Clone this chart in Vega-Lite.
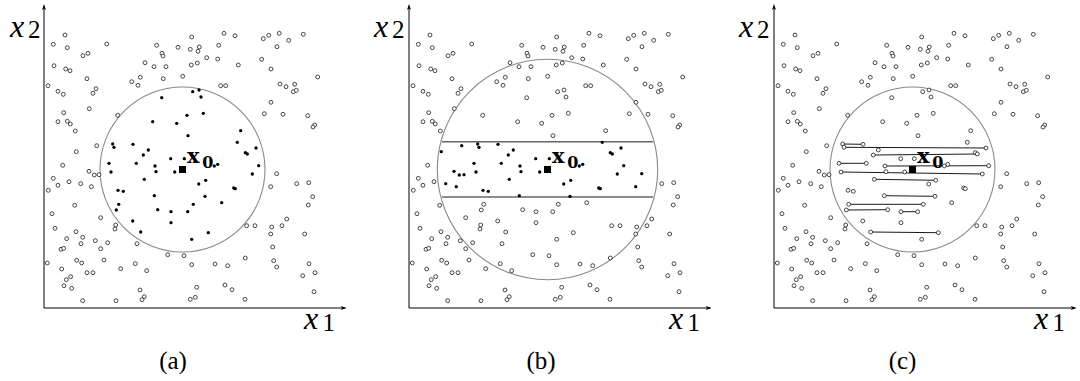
{
"$schema":"https://vega.github.io/schema/vega-lite/v6.json",
"padding":{"left":10,"top":4,"right":0,"bottom":0},
"spacing":61,
"bounds":"flush",
"config":{"view":{"stroke":null}},
"datasets":{
"one":[{}],
"pts":[{"x1":21,"x2":273},{"x1":147.7,"x2":271},{"x1":180,"x2":274.7},{"x1":191,"x2":272.3},{"x1":219.3,"x2":269.3},{"x1":224.7,"x2":272.7},{"x1":235.3,"x2":274.7},{"x1":244.7,"x2":267.7},{"x1":259.3,"x2":273.7},{"x1":9.3,"x2":263.7},{"x1":23.3,"x2":260.3},{"x1":62.7,"x2":264},{"x1":112.7,"x2":262.7},{"x1":134,"x2":260.7},{"x1":146.3,"x2":258.7},{"x1":155.3,"x2":261},{"x1":154,"x2":256.7},{"x1":174.7,"x2":262.7},{"x1":233,"x2":261.3},{"x1":118,"x2":254.7},{"x1":44,"x2":254.7},{"x1":39,"x2":252.3},{"x1":119,"x2":252},{"x1":162.7,"x2":250.3},{"x1":173.7,"x2":249},{"x1":217.7,"x2":248.7},{"x1":101,"x2":245.3},{"x1":153.3,"x2":245},{"x1":147.3,"x2":243},{"x1":110,"x2":241.3},{"x1":122,"x2":241.3},{"x1":194.3,"x2":243},{"x1":10,"x2":242.3},{"x1":21.7,"x2":239},{"x1":26,"x2":237.3},{"x1":227,"x2":239},{"x1":43,"x2":229.3},{"x1":87.7,"x2":226.3},{"x1":96.3,"x2":230.7},{"x1":119.3,"x2":229.3},{"x1":138.7,"x2":231.7},{"x1":94,"x2":222.7},{"x1":176.7,"x2":222.3},{"x1":181.7,"x2":222.3},{"x1":4,"x2":222.3},{"x1":14,"x2":216.7},{"x1":19.3,"x2":213.7},{"x1":52,"x2":219.3},{"x1":49,"x2":214.7},{"x1":236,"x2":224},{"x1":242,"x2":221.3},{"x1":250.7,"x2":223.7},{"x1":249.3,"x2":216.3},{"x1":252.3,"x2":217.7},{"x1":273.7,"x2":231},{"x1":45.3,"x2":199.3},{"x1":227,"x2":205.7},{"x1":19.7,"x2":195.3},{"x1":73.7,"x2":192.7},{"x1":220.3,"x2":194.3},{"x1":239,"x2":193.7},{"x1":263.7,"x2":192.3},{"x1":14,"x2":186.3},{"x1":23.3,"x2":186.7},{"x1":26.3,"x2":184},{"x1":31.3,"x2":177},{"x1":270.7,"x2":183},{"x1":269,"x2":181},{"x1":32.3,"x2":156.3},{"x1":52.7,"x2":162.3},{"x1":18.7,"x2":142.7},{"x1":45,"x2":136.7},{"x1":50.3,"x2":133},{"x1":55,"x2":133.3},{"x1":232.7,"x2":134.3},{"x1":9.3,"x2":129.7},{"x1":14,"x2":122.7},{"x1":4.3,"x2":117.7},{"x1":25,"x2":126.3},{"x1":36.7,"x2":124.3},{"x1":47.3,"x2":121.3},{"x1":226.7,"x2":121.3},{"x1":252.7,"x2":124.3},{"x1":264.7,"x2":125.3},{"x1":268.7,"x2":111.3},{"x1":30.7,"x2":102.7},{"x1":8,"x2":94.3},{"x1":264.3,"x2":103},{"x1":56.7,"x2":90.3},{"x1":11,"x2":79.7},{"x1":71.7,"x2":83},{"x1":71,"x2":79},{"x1":22.7,"x2":69.3},{"x1":32,"x2":76.3},{"x1":38.7,"x2":70.7},{"x1":37,"x2":64.3},{"x1":51.3,"x2":67.3},{"x1":63.7,"x2":65.3},{"x1":56.7,"x2":59.3},{"x1":93,"x2":64.3},{"x1":202.7,"x2":82.3},{"x1":211,"x2":82.3},{"x1":227.7,"x2":81},{"x1":226.7,"x2":74},{"x1":238,"x2":82.3},{"x1":242.7,"x2":89},{"x1":260.7,"x2":74},{"x1":228.7,"x2":61},{"x1":17,"x2":58.7},{"x1":19.7,"x2":59.7},{"x1":123.7,"x2":53.3},{"x1":140,"x2":52.3},{"x1":3.3,"x2":45},{"x1":32.7,"x2":47.7},{"x1":37.7,"x2":45},{"x1":60,"x2":48},{"x1":76.7,"x2":39.3},{"x1":91.3,"x2":44.3},{"x1":102.7,"x2":37.3},{"x1":147.7,"x2":43.3},{"x1":171,"x2":44},{"x1":183.7,"x2":42.3},{"x1":201.3,"x2":50},{"x1":229.7,"x2":47.3},{"x1":232.7,"x2":41},{"x1":265,"x2":44.3},{"x1":271,"x2":35.3},{"x1":258.7,"x2":32.3},{"x1":17.7,"x2":39},{"x1":43,"x2":35.3},{"x1":49,"x2":35.3},{"x1":26.7,"x2":31.3},{"x1":22.3,"x2":28.3},{"x1":20,"x2":22.3},{"x1":27.7,"x2":19.7},{"x1":96,"x2":18},{"x1":100.3,"x2":11.3},{"x1":98,"x2":8.3},{"x1":38.7,"x2":7.3},{"x1":72,"x2":7.3},{"x1":152.7,"x2":20.7},{"x1":181,"x2":23},{"x1":188,"x2":18.3},{"x1":146.3,"x2":8.7},{"x1":151.3,"x2":10.7},{"x1":201,"x2":8.7},{"x1":270,"x2":16.3},
{"x1":117.7,"x2":210.3},{"x1":148.7,"x2":216.3},{"x1":155,"x2":218},{"x1":157,"x2":211},{"x1":159.3,"x2":194.7},{"x1":143,"x2":192.7},{"x1":108.7,"x2":186.3},{"x1":132.7,"x2":184.7},{"x1":144,"x2":172.3},{"x1":196.7,"x2":177.3},{"x1":193.3,"x2":165.7},{"x1":212,"x2":160},{"x1":201.3,"x2":155.3},{"x1":203.3,"x2":154},{"x1":214.7,"x2":142.3},{"x1":208.3,"x2":134},{"x1":173.7,"x2":143.7},{"x1":170.3,"x2":142},{"x1":161.7,"x2":127.7},{"x1":154.7,"x2":124},{"x1":68.7,"x2":164},{"x1":70,"x2":160.7},{"x1":89,"x2":163.7},{"x1":104.3,"x2":158},{"x1":99.3,"x2":153},{"x1":92.3,"x2":144.7},{"x1":111,"x2":142},{"x1":112,"x2":136.3},{"x1":126.7,"x2":149.3},{"x1":140.3,"x2":149.3},{"x1":130.7,"x2":136},{"x1":65,"x2":144.7},{"x1":67,"x2":136},{"x1":100.3,"x2":128.7},{"x1":74,"x2":117.7},{"x1":79.3,"x2":116.7},{"x1":110.3,"x2":112.3},{"x1":189.7,"x2":120},{"x1":191.3,"x2":119.3},{"x1":161,"x2":111.7},{"x1":149.3,"x2":103.7},{"x1":177.7,"x2":105.3},{"x1":74.7,"x2":103.7},{"x1":72.3,"x2":98},{"x1":113.7,"x2":98.3},{"x1":127,"x2":96.3},{"x1":143.7,"x2":96.3},{"x1":127,"x2":85.3},{"x1":88.7,"x2":87},{"x1":96.7,"x2":76},{"x1":164.3,"x2":75.3},{"x1":147.7,"x2":68.7}],
"segs":[{"x1":68.7,"x2":164,"x1e":89,"x2e":163.7},{"x1":70,"x2":160.7,"x1e":212,"x2e":160},{"x1":99.3,"x2":153,"x1e":203.3,"x2e":154},{"x1":65,"x2":144.7,"x1e":92.3,"x2e":144.7},{"x1":111,"x2":142,"x1e":214.7,"x2e":142.3},{"x1":67,"x2":136,"x1e":208.3,"x2e":134},{"x1":100.3,"x2":128.7,"x1e":161.7,"x2e":127.7},{"x1":110.3,"x2":112.3,"x1e":161,"x2e":111.7},{"x1":74.7,"x2":103.7,"x1e":149.3,"x2e":103.7},{"x1":72.3,"x2":98,"x1e":113.7,"x2e":98.3},{"x1":127,"x2":96.3,"x1e":143.7,"x2e":96.3},{"x1":96.7,"x2":76,"x1e":164.3,"x2e":75.3}]
},
"hconcat":[
{"width":304,"height":304,"data":{"name":"one"},"layer":[
{"mark":{"type":"rule","color":"black","strokeWidth":1},"encoding":{"x":{"datum":0,"type":"quantitative","scale":{"domain":[0,304]},"axis":null},"x2":{"datum":301},"y":{"datum":0,"type":"quantitative","scale":{"domain":[0,304]},"axis":null}}},
{"mark":{"type":"rule","color":"black","strokeWidth":1},"encoding":{"x":{"datum":0,"type":"quantitative","scale":{"domain":[0,304]},"axis":null},"y":{"datum":0,"type":"quantitative","scale":{"domain":[0,304]},"axis":null},"y2":{"datum":302}}},
{"mark":{"type":"point","shape":"M0,-1L0.5,0.5L0,0.1L-0.5,0.5Z","size":64,"filled":true,"color":"black","opacity":1},"encoding":{"x":{"datum":0,"type":"quantitative","scale":{"domain":[0,304]},"axis":null},"y":{"datum":300,"type":"quantitative","scale":{"domain":[0,304]},"axis":null}}},
{"mark":{"type":"point","shape":"M1,0L-0.5,0.5L-0.1,0L-0.5,-0.5Z","size":64,"filled":true,"color":"black","opacity":1},"encoding":{"x":{"datum":298.7,"type":"quantitative","scale":{"domain":[0,304]},"axis":null},"y":{"datum":0,"type":"quantitative","scale":{"domain":[0,304]},"axis":null}}},
{"mark":{"type":"point","shape":"circle","size":27225,"filled":false,"color":"#8a8a8a","strokeWidth":1.1,"opacity":1},"encoding":{"x":{"datum":138.5,"type":"quantitative","scale":{"domain":[0,304]},"axis":null},"y":{"datum":138.5,"type":"quantitative","scale":{"domain":[0,304]},"axis":null}}},
{"data":{"name":"pts"},"transform":[{"filter":"pow(datum.x1-138.5,2)+pow(datum.x2-138.5,2)>=6806"}],"mark":{"type":"point","shape":"circle","size":15,"fill":"white","stroke":"#1a1a1a","strokeWidth":0.8,"opacity":1},"encoding":{"x":{"field":"x1","type":"quantitative","scale":{"domain":[0,304]},"axis":null},"y":{"field":"x2","type":"quantitative","scale":{"domain":[0,304]},"axis":null}}},
{"data":{"name":"pts"},"transform":[{"filter":"pow(datum.x1-138.5,2)+pow(datum.x2-138.5,2)<6806"}],"mark":{"type":"point","shape":"circle","size":11,"filled":true,"color":"black","opacity":1},"encoding":{"x":{"field":"x1","type":"quantitative","scale":{"domain":[0,304]},"axis":null},"y":{"field":"x2","type":"quantitative","scale":{"domain":[0,304]},"axis":null}}},
{"mark":{"type":"point","shape":"square","size":49,"filled":true,"color":"black","opacity":1},"encoding":{"x":{"datum":138.5,"type":"quantitative","scale":{"domain":[0,304]},"axis":null},"y":{"datum":138.5,"type":"quantitative","scale":{"domain":[0,304]},"axis":null}}},
{"mark":{"type":"text","text":"x","font":"Liberation Serif","fontStyle":"italic","fontSize":32,"align":"left","baseline":"alphabetic","color":"black"},"encoding":{"x":{"datum":-34,"type":"quantitative","scale":{"domain":[0,304]},"axis":null},"y":{"datum":271,"type":"quantitative","scale":{"domain":[0,304]},"axis":null}}},
{"mark":{"type":"text","text":"2","font":"Liberation Serif","fontSize":25,"align":"left","baseline":"alphabetic","color":"black"},"encoding":{"x":{"datum":-16,"type":"quantitative","scale":{"domain":[0,304]},"axis":null},"y":{"datum":270,"type":"quantitative","scale":{"domain":[0,304]},"axis":null}}},
{"mark":{"type":"text","text":"x","font":"Liberation Serif","fontStyle":"italic","fontSize":32,"align":"left","baseline":"alphabetic","color":"black"},"encoding":{"x":{"datum":260,"type":"quantitative","scale":{"domain":[0,304]},"axis":null},"y":{"datum":-21,"type":"quantitative","scale":{"domain":[0,304]},"axis":null}}},
{"mark":{"type":"text","text":"1","font":"Liberation Serif","fontSize":25,"align":"left","baseline":"alphabetic","color":"black"},"encoding":{"x":{"datum":278.5,"type":"quantitative","scale":{"domain":[0,304]},"axis":null},"y":{"datum":-23,"type":"quantitative","scale":{"domain":[0,304]},"axis":null}}},
{"mark":{"type":"text","text":"x","font":"DejaVu Serif","fontWeight":"bold","fontSize":21,"align":"left","baseline":"alphabetic","color":"black"},"encoding":{"x":{"datum":143,"type":"quantitative","scale":{"domain":[0,304]},"axis":null},"y":{"datum":144.7,"type":"quantitative","scale":{"domain":[0,304]},"axis":null}}},
{"mark":{"type":"text","text":"0","font":"DejaVu Serif","fontWeight":"bold","fontSize":16,"align":"left","baseline":"alphabetic","color":"black"},"encoding":{"x":{"datum":158.3,"type":"quantitative","scale":{"domain":[0,304]},"axis":null},"y":{"datum":140,"type":"quantitative","scale":{"domain":[0,304]},"axis":null}}},
{"mark":{"type":"text","text":"(a)","font":"Liberation Serif","fontSize":25,"align":"center","baseline":"alphabetic","color":"black"},"encoding":{"x":{"datum":129,"type":"quantitative","scale":{"domain":[0,304]},"axis":null},"y":{"datum":-61,"type":"quantitative","scale":{"domain":[0,304]},"axis":null}}}
]},
{"width":304,"height":304,"data":{"name":"one"},"layer":[
{"mark":{"type":"rule","color":"black","strokeWidth":1},"encoding":{"x":{"datum":0,"type":"quantitative","scale":{"domain":[0,304]},"axis":null},"x2":{"datum":301},"y":{"datum":0,"type":"quantitative","scale":{"domain":[0,304]},"axis":null}}},
{"mark":{"type":"rule","color":"black","strokeWidth":1},"encoding":{"x":{"datum":0,"type":"quantitative","scale":{"domain":[0,304]},"axis":null},"y":{"datum":0,"type":"quantitative","scale":{"domain":[0,304]},"axis":null},"y2":{"datum":302}}},
{"mark":{"type":"point","shape":"M0,-1L0.5,0.5L0,0.1L-0.5,0.5Z","size":64,"filled":true,"color":"black","opacity":1},"encoding":{"x":{"datum":0,"type":"quantitative","scale":{"domain":[0,304]},"axis":null},"y":{"datum":300,"type":"quantitative","scale":{"domain":[0,304]},"axis":null}}},
{"mark":{"type":"point","shape":"M1,0L-0.5,0.5L-0.1,0L-0.5,-0.5Z","size":64,"filled":true,"color":"black","opacity":1},"encoding":{"x":{"datum":298.7,"type":"quantitative","scale":{"domain":[0,304]},"axis":null},"y":{"datum":0,"type":"quantitative","scale":{"domain":[0,304]},"axis":null}}},
{"mark":{"type":"point","shape":"circle","size":48576,"filled":false,"color":"#8a8a8a","strokeWidth":1.1,"opacity":1},"encoding":{"x":{"datum":138.5,"type":"quantitative","scale":{"domain":[0,304]},"axis":null},"y":{"datum":138.5,"type":"quantitative","scale":{"domain":[0,304]},"axis":null}}},
{"mark":{"type":"rule","color":"#666666","strokeWidth":1.4},"encoding":{"x":{"datum":33,"type":"quantitative","scale":{"domain":[0,304]},"axis":null},"x2":{"datum":244},"y":{"datum":166.3,"type":"quantitative","scale":{"domain":[0,304]},"axis":null}}},
{"mark":{"type":"rule","color":"#666666","strokeWidth":1.4},"encoding":{"x":{"datum":33,"type":"quantitative","scale":{"domain":[0,304]},"axis":null},"x2":{"datum":244},"y":{"datum":111,"type":"quantitative","scale":{"domain":[0,304]},"axis":null}}},
{"data":{"name":"pts"},"transform":[{"filter":"!(datum.x2>=110.5 && datum.x2<=167 && pow(datum.x1-138.5,2)+pow(datum.x2-138.5,2)<12144)"}],"mark":{"type":"point","shape":"circle","size":15,"fill":"white","stroke":"#1a1a1a","strokeWidth":0.8,"opacity":1},"encoding":{"x":{"field":"x1","type":"quantitative","scale":{"domain":[0,304]},"axis":null},"y":{"field":"x2","type":"quantitative","scale":{"domain":[0,304]},"axis":null}}},
{"data":{"name":"pts"},"transform":[{"filter":"datum.x2>=110.5 && datum.x2<=167 && pow(datum.x1-138.5,2)+pow(datum.x2-138.5,2)<12144"}],"mark":{"type":"point","shape":"circle","size":11,"filled":true,"color":"black","opacity":1},"encoding":{"x":{"field":"x1","type":"quantitative","scale":{"domain":[0,304]},"axis":null},"y":{"field":"x2","type":"quantitative","scale":{"domain":[0,304]},"axis":null}}},
{"mark":{"type":"point","shape":"square","size":49,"filled":true,"color":"black","opacity":1},"encoding":{"x":{"datum":138.5,"type":"quantitative","scale":{"domain":[0,304]},"axis":null},"y":{"datum":138.5,"type":"quantitative","scale":{"domain":[0,304]},"axis":null}}},
{"mark":{"type":"text","text":"x","font":"Liberation Serif","fontStyle":"italic","fontSize":32,"align":"left","baseline":"alphabetic","color":"black"},"encoding":{"x":{"datum":-35,"type":"quantitative","scale":{"domain":[0,304]},"axis":null},"y":{"datum":271,"type":"quantitative","scale":{"domain":[0,304]},"axis":null}}},
{"mark":{"type":"text","text":"2","font":"Liberation Serif","fontSize":25,"align":"left","baseline":"alphabetic","color":"black"},"encoding":{"x":{"datum":-17,"type":"quantitative","scale":{"domain":[0,304]},"axis":null},"y":{"datum":270,"type":"quantitative","scale":{"domain":[0,304]},"axis":null}}},
{"mark":{"type":"text","text":"x","font":"Liberation Serif","fontStyle":"italic","fontSize":32,"align":"left","baseline":"alphabetic","color":"black"},"encoding":{"x":{"datum":260,"type":"quantitative","scale":{"domain":[0,304]},"axis":null},"y":{"datum":-21,"type":"quantitative","scale":{"domain":[0,304]},"axis":null}}},
{"mark":{"type":"text","text":"1","font":"Liberation Serif","fontSize":25,"align":"left","baseline":"alphabetic","color":"black"},"encoding":{"x":{"datum":278.5,"type":"quantitative","scale":{"domain":[0,304]},"axis":null},"y":{"datum":-23,"type":"quantitative","scale":{"domain":[0,304]},"axis":null}}},
{"mark":{"type":"text","text":"x","font":"DejaVu Serif","fontWeight":"bold","fontSize":21,"align":"left","baseline":"alphabetic","color":"black"},"encoding":{"x":{"datum":143,"type":"quantitative","scale":{"domain":[0,304]},"axis":null},"y":{"datum":144.7,"type":"quantitative","scale":{"domain":[0,304]},"axis":null}}},
{"mark":{"type":"text","text":"0","font":"DejaVu Serif","fontWeight":"bold","fontSize":16,"align":"left","baseline":"alphabetic","color":"black"},"encoding":{"x":{"datum":158.3,"type":"quantitative","scale":{"domain":[0,304]},"axis":null},"y":{"datum":140,"type":"quantitative","scale":{"domain":[0,304]},"axis":null}}},
{"mark":{"type":"text","text":"(b)","font":"Liberation Serif","fontSize":25,"align":"center","baseline":"alphabetic","color":"black"},"encoding":{"x":{"datum":132,"type":"quantitative","scale":{"domain":[0,304]},"axis":null},"y":{"datum":-61,"type":"quantitative","scale":{"domain":[0,304]},"axis":null}}}
]},
{"width":304,"height":304,"data":{"name":"one"},"layer":[
{"mark":{"type":"rule","color":"black","strokeWidth":1},"encoding":{"x":{"datum":0,"type":"quantitative","scale":{"domain":[0,304]},"axis":null},"x2":{"datum":301},"y":{"datum":0,"type":"quantitative","scale":{"domain":[0,304]},"axis":null}}},
{"mark":{"type":"rule","color":"black","strokeWidth":1},"encoding":{"x":{"datum":0,"type":"quantitative","scale":{"domain":[0,304]},"axis":null},"y":{"datum":0,"type":"quantitative","scale":{"domain":[0,304]},"axis":null},"y2":{"datum":302}}},
{"mark":{"type":"point","shape":"M0,-1L0.5,0.5L0,0.1L-0.5,0.5Z","size":64,"filled":true,"color":"black","opacity":1},"encoding":{"x":{"datum":0,"type":"quantitative","scale":{"domain":[0,304]},"axis":null},"y":{"datum":300,"type":"quantitative","scale":{"domain":[0,304]},"axis":null}}},
{"mark":{"type":"point","shape":"M1,0L-0.5,0.5L-0.1,0L-0.5,-0.5Z","size":64,"filled":true,"color":"black","opacity":1},"encoding":{"x":{"datum":298.7,"type":"quantitative","scale":{"domain":[0,304]},"axis":null},"y":{"datum":0,"type":"quantitative","scale":{"domain":[0,304]},"axis":null}}},
{"mark":{"type":"point","shape":"circle","size":27225,"filled":false,"color":"#8a8a8a","strokeWidth":1.1,"opacity":1},"encoding":{"x":{"datum":138.5,"type":"quantitative","scale":{"domain":[0,304]},"axis":null},"y":{"datum":138.5,"type":"quantitative","scale":{"domain":[0,304]},"axis":null}}},
{"data":{"name":"segs"},"mark":{"type":"rule","color":"#1a1a1a","strokeWidth":1},"encoding":{"x":{"field":"x1","type":"quantitative","scale":{"domain":[0,304]},"axis":null},"x2":{"field":"x1e"},"y":{"field":"x2","type":"quantitative","scale":{"domain":[0,304]},"axis":null},"y2":{"field":"x2e"}}},
{"data":{"name":"pts"},"mark":{"type":"point","shape":"circle","size":15,"fill":"white","stroke":"#1a1a1a","strokeWidth":0.8,"opacity":1},"encoding":{"x":{"field":"x1","type":"quantitative","scale":{"domain":[0,304]},"axis":null},"y":{"field":"x2","type":"quantitative","scale":{"domain":[0,304]},"axis":null}}},
{"mark":{"type":"point","shape":"square","size":49,"filled":true,"color":"black","opacity":1},"encoding":{"x":{"datum":138.5,"type":"quantitative","scale":{"domain":[0,304]},"axis":null},"y":{"datum":138.5,"type":"quantitative","scale":{"domain":[0,304]},"axis":null}}},
{"mark":{"type":"text","text":"x","font":"Liberation Serif","fontStyle":"italic","fontSize":32,"align":"left","baseline":"alphabetic","color":"black"},"encoding":{"x":{"datum":-35,"type":"quantitative","scale":{"domain":[0,304]},"axis":null},"y":{"datum":271,"type":"quantitative","scale":{"domain":[0,304]},"axis":null}}},
{"mark":{"type":"text","text":"2","font":"Liberation Serif","fontSize":25,"align":"left","baseline":"alphabetic","color":"black"},"encoding":{"x":{"datum":-17,"type":"quantitative","scale":{"domain":[0,304]},"axis":null},"y":{"datum":270,"type":"quantitative","scale":{"domain":[0,304]},"axis":null}}},
{"mark":{"type":"text","text":"x","font":"Liberation Serif","fontStyle":"italic","fontSize":32,"align":"left","baseline":"alphabetic","color":"black"},"encoding":{"x":{"datum":260,"type":"quantitative","scale":{"domain":[0,304]},"axis":null},"y":{"datum":-21,"type":"quantitative","scale":{"domain":[0,304]},"axis":null}}},
{"mark":{"type":"text","text":"1","font":"Liberation Serif","fontSize":25,"align":"left","baseline":"alphabetic","color":"black"},"encoding":{"x":{"datum":278.5,"type":"quantitative","scale":{"domain":[0,304]},"axis":null},"y":{"datum":-23,"type":"quantitative","scale":{"domain":[0,304]},"axis":null}}},
{"mark":{"type":"text","text":"x","font":"DejaVu Serif","fontWeight":"bold","fontSize":21,"align":"left","baseline":"alphabetic","color":"black"},"encoding":{"x":{"datum":143,"type":"quantitative","scale":{"domain":[0,304]},"axis":null},"y":{"datum":144.7,"type":"quantitative","scale":{"domain":[0,304]},"axis":null}}},
{"mark":{"type":"text","text":"0","font":"DejaVu Serif","fontWeight":"bold","fontSize":16,"align":"left","baseline":"alphabetic","color":"black"},"encoding":{"x":{"datum":158.3,"type":"quantitative","scale":{"domain":[0,304]},"axis":null},"y":{"datum":140,"type":"quantitative","scale":{"domain":[0,304]},"axis":null}}},
{"mark":{"type":"text","text":"(c)","font":"Liberation Serif","fontSize":25,"align":"center","baseline":"alphabetic","color":"black"},"encoding":{"x":{"datum":128.5,"type":"quantitative","scale":{"domain":[0,304]},"axis":null},"y":{"datum":-61,"type":"quantitative","scale":{"domain":[0,304]},"axis":null}}}
]}
]
}
